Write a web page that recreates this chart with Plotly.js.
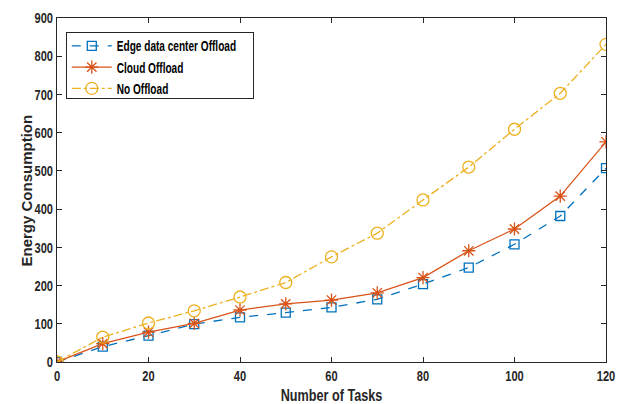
<!DOCTYPE html>
<html><head><meta charset="utf-8">
<script src="https://cdn.plot.ly/plotly-3.0.1.min.js"></script>
<style>body{margin:0;background:#fff}#chart{width:630px;height:404px}</style>
</head><body><div id="chart"></div>
<script>
const tasks = [0,10,20,30,40,50,60,70,80,90,100,110,120];
const edgeOffload = [0,40,69,99,117,129,143,164,204,247,308,382,507];
const cloudOffload = [0,48,78,101,136,152,162,181,221,291,348,434,576];
const noOffload = [0,65,102,134,170,208,275,337,424,510,609,703,831];
const seriesNames = ['Edge data center Offload','Cloud Offload','No Offload'];
const xTicks = [0,20,40,60,80,100,120];
const yTicks = [0,100,200,300,400,500,600,700,800,900];
const xTitle = 'Number of Tasks';
const yTitle = 'Energy Consumption';

const fontFam = '"Liberation Sans", Arial, sans-serif';
const ink = '#262626';
const traces = [
  {x:tasks,y:edgeOffload,name:seriesNames[0],mode:'lines+markers',
   line:{color:'#0072BD',width:1.3,dash:'dash'},
   marker:{symbol:'square-open',size:9,color:'#0072BD',line:{width:1.3}}},
  {x:tasks,y:cloudOffload,name:seriesNames[1],mode:'lines+markers',
   line:{color:'#D95319',width:1.3},
   marker:{symbol:'asterisk-open',size:11,color:'#D95319',line:{width:1.3,color:'#D95319'}}},
  {x:tasks,y:noOffload,name:seriesNames[2],mode:'lines+markers',
   line:{color:'#EDB120',width:1.3,dash:'dashdot'},
   marker:{symbol:'circle-open',size:12,color:'#EDB120',line:{width:1.3}}}
];
const axisCommon = {showgrid:false,zeroline:false,showline:true,mirror:'ticks',
  linecolor:ink,linewidth:1,ticks:'inside',ticklen:5,tickcolor:ink,
  tickfont:{family:fontFam,size:15,weight:'bold',color:ink}};
const layout = {
  width:630,height:404,margin:{l:57,r:24,t:18,b:42},
  paper_bgcolor:'#fff',plot_bgcolor:'#fff',
  font:{family:fontFam,color:ink},
  xaxis:Object.assign({},axisCommon,{range:[0,120],tickvals:xTicks,
    title:{text:'<b>'+xTitle+'</b>',font:{family:fontFam,size:16,color:ink},standoff:8}}),
  yaxis:Object.assign({},axisCommon,{range:[0,900],tickvals:yTicks}),
  annotations:[{text:'<b>'+yTitle+'</b>',xref:'paper',yref:'paper',x:0,y:0.5,
    xanchor:'right',yanchor:'middle',xshift:-21,textangle:-90,showarrow:false,
    font:{family:fontFam,size:15,color:ink}}],
  showlegend:true,
  legend:{x:0.016,y:0.967,xanchor:'left',yanchor:'top',bgcolor:'#fff',
    bordercolor:ink,borderwidth:1,font:{family:fontFam,size:14,weight:'bold',color:'#000'},
    tracegroupgap:0,itemwidth:40}
};
function squeeze(sel, factor){
  document.querySelectorAll(sel).forEach(t=>{
    const L=t.getComputedTextLength();
    t.setAttribute('textLength',(L*factor).toFixed(1));
    t.setAttribute('lengthAdjust','spacingAndGlyphs');
  });
}
Plotly.newPlot('chart',traces,layout,{displayModeBar:false}).then(()=>{
  squeeze('#chart .xtick > text',0.74);
  squeeze('#chart .ytick > text',0.74);
  squeeze('#chart text.legendtext',0.72);
  squeeze('#chart text.xtitle',0.79);
  const bg=document.querySelector('#chart .legend rect.bg');
  if(bg){
    const y0=parseFloat(bg.getAttribute('y')||0);
    bg.setAttribute('y',(y0+3).toFixed(1));
    bg.setAttribute('width','187');
    bg.setAttribute('height','66');
  }
});
</script></body></html>
